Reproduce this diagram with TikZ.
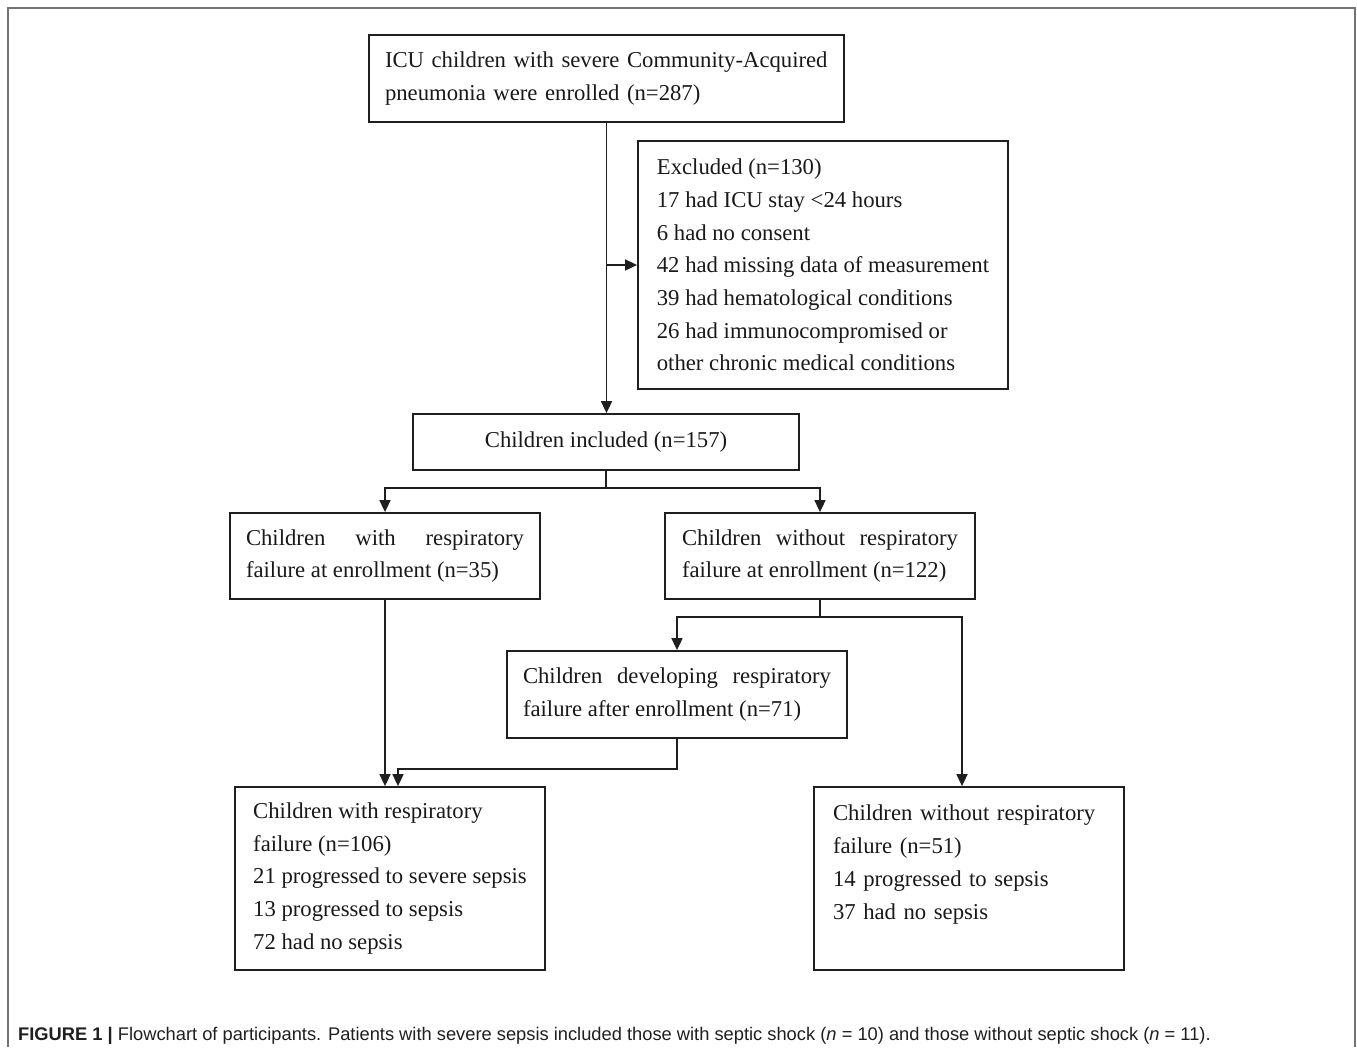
\documentclass[tikz,border=0pt]{standalone}
\usepackage{fontspec}
\setmainfont{Liberation Serif}
\newfontfamily\capfont{Liberation Sans}
\usetikzlibrary{arrows.meta}
\begin{document}
\begin{tikzpicture}[x=1pt,y=-1pt,
  box/.style={draw=black!88, line width=1.8pt, inner sep=0pt, align=left,
    font=\fontsize{22.7}{32.7}\selectfont, text=black!90},
  conn/.style={line width=1.7pt, draw=black!88},
  arr/.style={conn, -{Triangle[length=12pt,width=11pt]}},
  frame/.style={line width=2pt, draw=black!55},
  captext/.style={anchor=base west, inner sep=0pt, text=black!88,
    font=\capfont\fontsize{18.3}{21}\selectfont}]
\useasboundingbox (0,0) rectangle (1357,1047);
\draw[frame] (8,1047) -- (8,8) -- (1355,8) -- (1355,1047);

\node[box, minimum width=475pt, minimum height=87pt, text width=443pt] (enr) at (606.5,78.5)
  {ICU children with severe Community-Acquired\\pneumonia were enrolled (n=287)};
\node[box, minimum width=370pt, minimum height=248pt] (exc) at (823,265)
  {Excluded (n=130)\\17 had ICU stay <24 hours\\6 had no consent\\42 had missing data of measurement\\39 had hematological conditions\\26 had immunocompromised or\\other chronic medical conditions};
\node[box, minimum width=386pt, minimum height=56pt, align=center] (inc) at (606,442)
  {Children included (n=157)};
\node[box, minimum width=310pt, minimum height=86pt] (wr) at (385,556)
  {\makebox[278pt][s]{Children with respiratory}\\failure at enrollment (n=35)};
\node[box, minimum width=310pt, minimum height=86pt] (wo) at (820,556)
  {\makebox[276pt][s]{Children without respiratory}\\failure at enrollment (n=122)};
\node[box, minimum width=340pt, minimum height=87pt] (dev) at (677,694.5)
  {\makebox[308pt][s]{Children developing respiratory}\\failure after enrollment (n=71)};
\node[box, minimum width=310pt, minimum height=183pt] (bl) at (390,878.5)
  {Children with respiratory\\failure (n=106)\\21 progressed to severe sepsis\\13 progressed to sepsis\\72 had no sepsis};
\node[box, minimum width=310pt, minimum height=183pt, text width=272pt] (br) at (969,878.5)
  {Children without respiratory\\failure (n=51)\\14 progressed to sepsis\\37 had no sepsis\\\mbox{}};

\coordinate (j1) at (enr.south |- exc.west);
\coordinate (b1) at (606,488);
\coordinate (b2) at (820,617);
\draw[arr] (enr.south) -- (enr.south |- inc.north);
\draw[arr] (j1) -- (exc.west);
\draw[arr] (inc.south) -- (inc.south |- b1) -| (wr.north);
\draw[arr] (inc.south |- b1) -| (wo.north);
\draw[arr] (wr.south) -- (wr.south |- bl.north);
\draw[arr] (wo.south) -- (b2) -| (dev.north);
\draw[arr] (b2) -| ([xshift=-7pt]br.north);
\draw[arr] (dev.south) -- ++(0,30) -| ([xshift=8pt]bl.north);

\node[captext] (cap) at (18,1040) {\textbf{FIGURE 1 |} Flowchart of participants. Patients with severe sepsis included those with septic shock (\textit{n} = 10) and those without septic shock (\textit{n} = 11).};
\end{tikzpicture}
\end{document}
